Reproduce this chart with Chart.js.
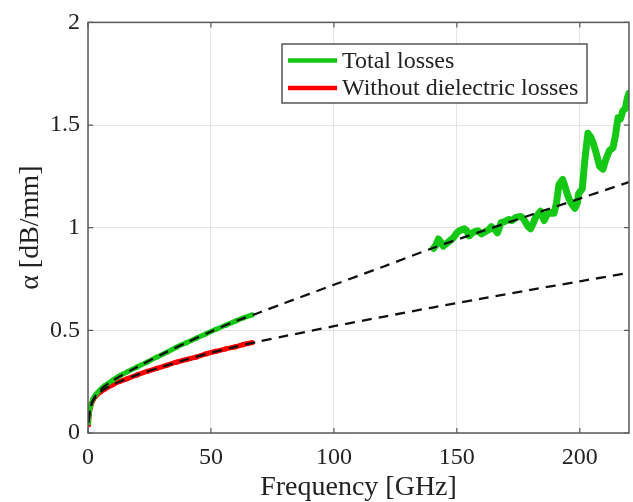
<!DOCTYPE html>
<html><head><meta charset="utf-8">
<script src="https://cdn.jsdelivr.net/npm/chart.js@4"></script>
<style>html,body{margin:0;padding:0;background:#fff}</style>
</head><body>
<canvas id="c" width="633" height="502"></canvas>
<script>
// ---- data ----
const freqLow    = [0.2, 0.5, 1, 2, 3, 5, 7, 10, 13, 16, 20, 24, 28, 32, 36, 40, 44, 48, 52, 56, 60, 63, 66.7];
const totalLow   = [0.05, 0.10, 0.13, 0.165, 0.185, 0.212, 0.232, 0.257, 0.28, 0.298, 0.322, 0.345, 0.37, 0.393, 0.418, 0.44, 0.462, 0.483, 0.505, 0.525, 0.545, 0.56, 0.575];
const withoutLow = [0.04, 0.09, 0.125, 0.16, 0.178, 0.2, 0.215, 0.235, 0.252, 0.265, 0.283, 0.3, 0.315, 0.33, 0.345, 0.358, 0.37, 0.385, 0.398, 0.41, 0.42, 0.43, 0.44];

const freqHigh  = [140.5,141.5,142.5,143.5,144.5,146,147,148.5,150,151,153,154,155,156,157,158.5,160,161.5,163,164,165.5,166.5,168,169.5,171,172.5,174,176,177,178,179,180,181,182,183,184,185,185.5,186.5,187.5,188.5,189.5,190.5,191.5,193,194,195,196,197,198,199,199.5,201,202,203.3,204.5,205.5,206.5,208,209.4,210.5,212,213.5,214.5,215.5,216.5,217.5,218.5,219.3,220];
const totalHigh = [0.90,0.915,0.945,0.93,0.91,0.925,0.935,0.95,0.975,0.985,0.995,0.985,0.96,0.972,0.98,0.985,0.97,0.98,0.99,1.005,0.99,0.975,1.025,1.03,1.04,1.035,1.05,1.055,1.045,1.025,1.005,0.995,1.02,1.05,1.065,1.08,1.05,1.035,1.06,1.075,1.07,1.07,1.12,1.21,1.235,1.2,1.16,1.13,1.11,1.095,1.12,1.165,1.19,1.325,1.46,1.44,1.41,1.37,1.3,1.285,1.33,1.375,1.39,1.45,1.535,1.53,1.57,1.58,1.63,1.655];

const fitFreq    = [0.2, 1, 2, 5, 10, 20, 30, 40, 50, 60, 70, 80, 100, 120, 140, 160, 180, 200, 220];
const fitTotal   = [0.06, 0.125, 0.16, 0.21, 0.255, 0.322, 0.383, 0.44, 0.494, 0.545, 0.588, 0.633, 0.722, 0.81, 0.9, 0.982, 1.062, 1.142, 1.222];
const fitWithout = [0.05, 0.12, 0.155, 0.2, 0.235, 0.283, 0.322, 0.358, 0.391, 0.42, 0.447, 0.472, 0.52, 0.566, 0.611, 0.654, 0.697, 0.739, 0.78];

const xTicks = [0, 50, 100, 150, 200];
const yTicks = [0, 0.5, 1, 1.5, 2];
const yTickLabels = ['0', '0.5', '1', '1.5', '2'];
const seriesNames = ['Total losses', 'Without dielectric losses'];

// ---- styles ----
const GREEN = 'rgb(22,200,22)';
const RED = 'rgb(255,0,0)';
const FONT = '"Liberation Serif", "Times New Roman", serif';
const TEXT = '#222';

const pts = (xs, ys) => xs.map((x, i) => ({x: x, y: ys[i]}));

const boxPlugin = {
  id: 'boxPlugin',
  afterDatasetsDraw(chart) {
    const {ctx, chartArea: a, scales} = chart;
    ctx.save();
    ctx.strokeStyle = '#5a5a5a';
    ctx.lineWidth = 1.5;
    ctx.strokeRect(a.left, a.top, a.right - a.left, a.bottom - a.top);
    ctx.lineWidth = 1.2;
    ctx.beginPath();
    xTicks.forEach(v => {
      const x = scales.x.getPixelForValue(v);
      ctx.moveTo(x, a.bottom); ctx.lineTo(x, a.bottom - 5);
      ctx.moveTo(x, a.top); ctx.lineTo(x, a.top + 5);
    });
    yTicks.forEach(v => {
      const y = scales.y.getPixelForValue(v);
      ctx.moveTo(a.left, y); ctx.lineTo(a.left + 5, y);
      ctx.moveTo(a.right, y); ctx.lineTo(a.right - 5, y);
    });
    ctx.stroke();
    ctx.restore();
  },
  afterDraw(chart) {
    const ctx = chart.ctx;
    ctx.save();
    const bx = 282, by = 44, bw = 305, bh = 59;
    ctx.fillStyle = '#fff';
    ctx.fillRect(bx, by, bw, bh);
    ctx.strokeStyle = '#555';
    ctx.lineWidth = 1.5;
    ctx.strokeRect(bx, by, bw, bh);
    const cols = [GREEN, RED];
    const ys = [60.5, 88];
    ctx.lineWidth = 4.5;
    ctx.font = '24px ' + FONT;
    ctx.textBaseline = 'middle';
    ctx.textAlign = 'left';
    seriesNames.forEach((n, i) => {
      ctx.strokeStyle = cols[i];
      ctx.beginPath();
      ctx.moveTo(288, ys[i]); ctx.lineTo(337, ys[i]);
      ctx.stroke();
      ctx.fillStyle = TEXT;
      ctx.fillText(n, 342, ys[i] + 1);
    });
    ctx.restore();
  }
};

new Chart(document.getElementById('c'), {
  type: 'line',
  data: {
    datasets: [
      {label: 'fitTotal', data: pts(fitFreq, fitTotal), borderColor: '#111', borderWidth: 2.3, borderDash: [10, 7], pointRadius: 0, tension: 0.3, order: 0},
      {label: 'fitWithout', data: pts(fitFreq, fitWithout), borderColor: '#111', borderWidth: 2.3, borderDash: [10, 7], pointRadius: 0, tension: 0.3, order: 0},
      {label: seriesNames[0], data: pts(freqLow, totalLow), borderColor: GREEN, backgroundColor: GREEN, borderWidth: 5, pointRadius: 2.6, pointBorderWidth: 0, tension: 0.3, order: 1},
      {label: seriesNames[0] + ' (high)', data: pts(freqHigh, totalHigh), borderColor: GREEN, borderWidth: 7, pointRadius: 0, tension: 0, borderJoinStyle: 'round', borderCapStyle: 'round', order: 1},
      {label: seriesNames[1], data: pts(freqLow, withoutLow), borderColor: RED, backgroundColor: RED, borderWidth: 5, pointRadius: 2.6, pointBorderWidth: 0, tension: 0.3, order: 2}
    ]
  },
  options: {
    responsive: false,
    animation: false,
    devicePixelRatio: 1,
    layout: {padding: {left: 12, top: 22, right: 4, bottom: 0}},
    plugins: {legend: {display: false}, tooltip: {enabled: false}},
    scales: {
      x: {
        type: 'linear', min: 0, max: 220,
        afterBuildTicks: s => { s.ticks = xTicks.map(v => ({value: v})); },
        afterFit: s => { s.height = 69; },
        grid: {color: '#e4e4e4', lineWidth: 1, drawTicks: false},
        border: {display: false},
        ticks: {padding: 10, color: TEXT, font: {family: FONT, size: 24}, maxRotation: 0},
        title: {display: true, text: 'Frequency [GHz]', color: TEXT, font: {family: FONT, size: 28, lineHeight: 1}, padding: {top: 0, bottom: 0}}
      },
      y: {
        type: 'linear', min: 0, max: 2,
        afterBuildTicks: s => { s.ticks = yTicks.map(v => ({value: v})); },
        afterFit: s => { s.width = 76; },
        grid: {color: '#e4e4e4', lineWidth: 1, drawTicks: false},
        border: {display: false},
        ticks: {padding: 8, color: TEXT, font: {family: FONT, size: 24},
                callback: (v) => yTickLabels[yTicks.indexOf(v)] ?? String(v)},
        title: {display: true, text: 'α [dB/mm]', color: TEXT, font: {family: FONT, size: 28, lineHeight: 1}, padding: {top: 5, bottom: 0}}
      }
    }
  },
  plugins: [boxPlugin]
});
</script>
</body></html>
